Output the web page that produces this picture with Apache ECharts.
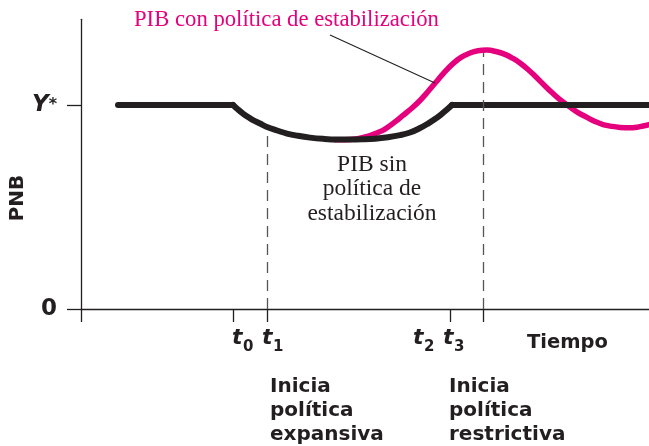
<!DOCTYPE html>
<html>
<head>
<meta charset="utf-8">
<script src="https://cdn.jsdelivr.net/npm/echarts@6/dist/echarts.min.js"></script>
<style>html,body{margin:0;padding:0;background:#fff}#c{width:649px;height:446px}</style>
</head>
<body>
<div id="c"></div>
<script>
// Time axis in arbitrary units; PNB with Y* = 100
const tMarks = [0, 15.2, 18.6, 36.9, 40.2]; // origin, t0, t1, t2, t3 (tick positions)
const yTicks = [0, 100];

// Black: GDP without stabilisation policy
const flatBeforeX = [3.7, 15.2];
const flatBeforeY = [100, 100];
const dipX = [15.2, 15.7, 16.2, 16.7, 17.2, 17.9, 18.6, 19.6, 20.6, 21.7, 22.9, 24.2, 25.6, 26.9, 28.1, 29.4, 30.7, 31.9, 32.9, 33.9, 34.7, 35.4, 36.0, 36.6, 37.1];
const dipY = [100, 97.8, 95.8, 94.1, 92.6, 90.9, 89.2, 87.5, 86.0, 84.9, 84.0, 83.4, 83.1, 83.1, 83.2, 83.5, 84.2, 85.2, 86.5, 88.7, 90.9, 93.1, 95.3, 97.8, 100];
const flatAfterX = [37.1, 56.8];
const flatAfterY = [100, 100];

// Pink: GDP with stabilisation policy
const pinkX = [25.4, 26.4, 27.4, 28.2, 28.9, 29.7, 30.4, 31.4, 32.2, 33.1, 33.9, 34.7, 35.6, 36.4, 37.2, 38.0, 38.9, 39.7, 40.6, 41.5, 42.4, 43.2, 43.9, 44.7, 45.4, 46.3, 47.2, 48.0, 48.9, 49.7, 50.6, 51.4, 52.2, 53.1, 53.9, 54.8, 55.6, 56.2, 56.8];
const pinkY = [83.0, 83.0, 83.3, 84.1, 85.0, 86.5, 88.2, 91.7, 94.9, 98.5, 102.2, 106.6, 111.8, 116.4, 120.3, 123.3, 125.5, 126.6, 126.9, 126.2, 124.8, 122.8, 120.6, 117.4, 114.2, 109.8, 105.6, 102.2, 99.0, 96.3, 93.9, 91.9, 90.4, 89.5, 89.0, 88.8, 89.1, 89.7, 90.4];

// Dashed guides: [x, top]
const dashT1 = [18.6, 88.2];
const dashT3 = [40.2, 125.5];
// Annotation leader line for pink label
const leader = [[24.9, 134.3], [35.4, 110.8]];

const BLACK = '#231f20';
const PINK = '#E5007D';
const zip = (xs, ys) => xs.map((x, i) => [x, ys[i]]);

const chart = echarts.init(document.getElementById('c'), null, {renderer: 'canvas'});
const blackLine = {color: BLACK, width: 6, cap: 'round', join: 'round'};
const boldSans = 'DejaVu Sans';

const tLabel = (x, sub) => [
  {type: 'text', x: x, y: 338, style: {text: 't', font: 'italic bold 22px "DejaVu Sans"', fill: BLACK, verticalAlign: 'middle'}},
  {type: 'text', x: x + 11, y: 347, style: {text: sub, font: 'bold 15px "DejaVu Sans"', fill: BLACK, verticalAlign: 'middle'}}
];

chart.setOption({
  animation: false,
  grid: {left: 81, right: 0, top: 19.3, bottom: 137, containLabel: false},
  xAxis: {
    type: 'value', min: 0, max: 56.8,
    axisLine: {show: true, onZero: false, lineStyle: {color: BLACK, width: 1.3}},
    axisTick: {show: true, customValues: tMarks, length: 13, lineStyle: {color: BLACK, width: 1.3}},
    axisLabel: {show: false},
    splitLine: {show: false}
  },
  yAxis: {
    type: 'value', min: 0, max: 142,
    axisLine: {show: true, onZero: false, lineStyle: {color: BLACK, width: 1.3}},
    axisTick: {show: true, customValues: yTicks, length: 14, lineStyle: {color: BLACK, width: 1.3}},
    axisLabel: {
      show: true, customValues: yTicks, margin: 24,
      formatter: v => v === 0 ? '{z|0}' : '{y|Y}{s|*}',
      rich: {
        z: {fontFamily: boldSans, fontWeight: 'bold', fontSize: 23, color: BLACK},
        y: {fontFamily: boldSans, fontWeight: 'bold', fontStyle: 'italic', fontSize: 23, color: BLACK},
        s: {fontFamily: boldSans, fontWeight: 'bold', fontSize: 16, color: BLACK}
      }
    },
    splitLine: {show: false}
  },
  series: [
    {
      type: 'line', name: 'PIB con política de estabilización', data: zip(pinkX, pinkY),
      smooth: 0.4, symbol: 'none', z: 2,
      lineStyle: {color: PINK, width: 5.5, cap: 'round'},
      markLine: {
        silent: true, symbol: 'none', label: {show: false},
        lineStyle: {color: '#555', width: 1.3, type: [11, 7]},
        data: [
          [{coord: [dashT1[0], 0]}, {coord: [dashT1[0], dashT1[1]]}],
          [{coord: [dashT3[0], 0]}, {coord: [dashT3[0], dashT3[1]]}],
          [{coord: leader[0], lineStyle: {color: BLACK, width: 1.1, type: 'solid'}}, {coord: leader[1]}]
        ]
      }
    },
    {type: 'line', data: zip(flatBeforeX, flatBeforeY), symbol: 'none', z: 3, lineStyle: blackLine},
    {type: 'line', data: zip(dipX, dipY), smooth: 0.4, symbol: 'none', z: 3, lineStyle: blackLine},
    {type: 'line', data: zip(flatAfterX, flatAfterY), symbol: 'none', z: 3, lineStyle: blackLine}
  ],
  graphic: [
    {type: 'text', x: 134, y: 20, style: {text: 'PIB con política de estabilización', font: '22.7px "Liberation Serif"', fill: PINK, verticalAlign: 'middle'}},
    {type: 'text', x: 372, y: 189, style: {text: 'PIB sin\npolítica de\nestabilización', font: '23.5px "Liberation Serif"', lineHeight: 24.5, fill: BLACK, align: 'center', verticalAlign: 'middle'}},
    {type: 'text', x: 18, y: 198, rotation: Math.PI / 2, style: {text: 'PNB', font: 'bold 20px "DejaVu Sans"', fill: BLACK, align: 'center', verticalAlign: 'middle'}},
    {type: 'text', x: 527, y: 343, style: {text: 'Tiempo', font: 'bold 19.5px "DejaVu Sans"', fill: BLACK, verticalAlign: 'middle'}},
    {type: 'text', x: 270, y: 411, style: {text: 'Inicia\npolítica\nexpansiva', font: 'bold 20px "DejaVu Sans"', lineHeight: 24, fill: BLACK, verticalAlign: 'middle'}},
    {type: 'text', x: 449, y: 411, style: {text: 'Inicia\npolítica\nrestrictiva', font: 'bold 20px "DejaVu Sans"', lineHeight: 24, fill: BLACK, verticalAlign: 'middle'}}
  ].concat(tLabel(232, '0'), tLabel(262, '1'), tLabel(413, '2'), tLabel(443, '3'))
});
</script>
</body>
</html>
